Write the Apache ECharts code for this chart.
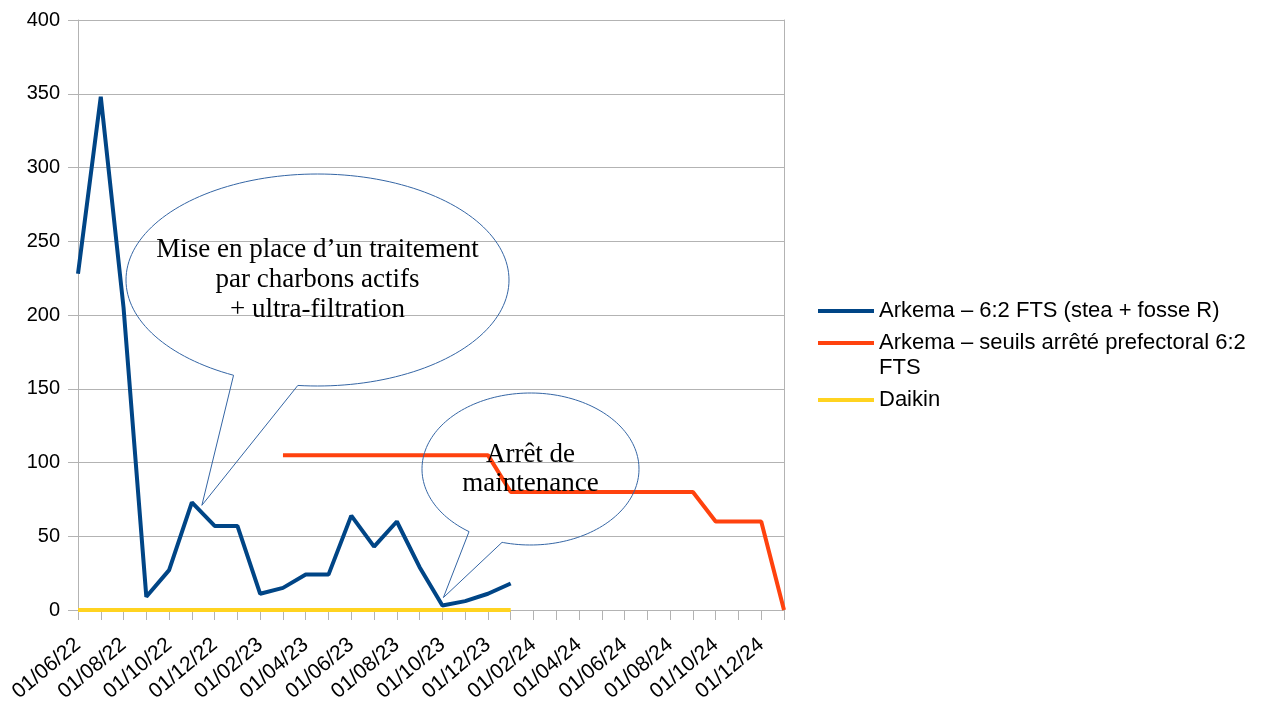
<!DOCTYPE html>
<html>
<head>
<meta charset="utf-8">
<script src="https://cdn.jsdelivr.net/npm/echarts@6/dist/echarts.min.js"></script>
<style>
  html, body { margin: 0; padding: 0; background: #fff; }
  #chart { width: 1278px; height: 701px; }
</style>
</head>
<body>
<div id="chart"></div>
<script>
const months = [
  '01/06/22', '01/07/22', '01/08/22', '01/09/22', '01/10/22', '01/11/22', '01/12/22',
  '01/01/23', '01/02/23', '01/03/23', '01/04/23', '01/05/23', '01/06/23',
  '01/07/23', '01/08/23', '01/09/23', '01/10/23', '01/11/23', '01/12/23',
  '01/01/24', '01/02/24', '01/03/24', '01/04/24', '01/05/24', '01/06/24',
  '01/07/24', '01/08/24', '01/09/24', '01/10/24', '01/11/24', '01/12/24',
  '01/01/25'
]

const seriesNames = [
  'Arkema – 6:2 FTS (stea + fosse R)',
  'Arkema – seuils arrêté prefectoral 6:2 FTS',
  'Daikin'
]

const arkema = [228, 348, 205, 9, 27, 73, 57, 57, 11, 15, 24, 24, 64, 43, 60, 29, 3, 6, 11, 18,
  null, null, null, null, null, null, null, null, null, null, null, null]

const seuils = [null, null, null, null, null, null, null, null, null,
  105, 105, 105, 105, 105, 105, 105, 105, 105, 105,
  80, 80, 80, 80, 80, 80, 80, 80, 80,
  60, 60, 60, 0]

const daikin = [0, 0, 0, 0, 0, 0, 0, 0, 0, 0, 0, 0, 0, 0, 0, 0, 0, 0, 0, 0,
  null, null, null, null, null, null, null, null, null, null, null, null]

const colors = ['#004586', '#ff420e', '#ffd320']

// speech bubbles: ellipse + tail pointing at a point of the first series
const notes = [
  {
    lines: ['Mise en place d’un traitement', 'par charbons actifs', '+ ultra-filtration'],
    cx: 317.5, cy: 280, rx: 191.5, ry: 106,
    tailFrom: 116, tailTo: 95.9,
    at: 5, dx: 10, dy: 3,
    fontSize: 27, lineHeight: 30
  },
  {
    lines: ['Arrêt de', 'maintenance'],
    cx: 530.5, cy: 469, rx: 108.5, ry: 76,
    tailFrom: 124.5, tailTo: 105.2,
    at: 16, dx: 1, dy: -8,
    fontSize: 27, lineHeight: 29
  }
]

const gray = '#b3b3b3'
const sans = '"Liberation Sans", Arial, sans-serif'

const legendBase = {
  orient: 'vertical',
  left: 818,
  padding: 0,
  icon: 'rect',
  itemWidth: 56,
  itemHeight: 4,
  selectedMode: false,
  textStyle: { fontFamily: sans, fontSize: 22, color: '#000', lineHeight: 25 }
}

const option = {
  animation: false,
  color: colors,
  grid: { left: 78, right: 494, top: 20, bottom: 91, outerBoundsMode: 'none' },
  legend: [
    Object.assign({}, legendBase, { top: 298.5, data: [seriesNames[0]] }),
    // blank first line keeps the icon level with the first text line
    Object.assign({}, legendBase, {
      top: 305.5,
      data: [seriesNames[1]],
      formatter: name => ' \n' + name.replace(' FTS', '\nFTS')
    }),
    Object.assign({}, legendBase, { top: 387.5, data: [seriesNames[2]] })
  ],
  xAxis: {
    type: 'category',
    data: months,
    boundaryGap: false,
    axisLine: { lineStyle: { color: gray, width: 1 } },
    axisTick: { show: true, interval: 0, length: 10, lineStyle: { color: gray } },
    axisLabel: {
      interval: 1,
      rotate: 40,
      margin: 32,
      fontFamily: sans,
      fontSize: 21,
      color: '#000'
    },
    splitLine: { show: false }
  },
  yAxis: [
    {
      type: 'value',
      min: 0,
      max: 400,
      interval: 50,
      axisLine: { show: true, lineStyle: { color: gray } },
      axisTick: { show: true, length: 10, lineStyle: { color: gray } },
      axisLabel: { margin: 18, fontFamily: sans, fontSize: 20, color: '#000' },
      splitLine: { lineStyle: { color: gray, width: 1 } }
    },
    {
      type: 'value',
      position: 'right',
      min: 0,
      max: 400,
      interval: 50,
      axisLine: { show: true, lineStyle: { color: gray } },
      axisTick: { show: false },
      axisLabel: { show: false },
      splitLine: { show: false }
    }
  ],
  series: [
    { name: seriesNames[0], type: 'line', data: arkema },
    { name: seriesNames[1], type: 'line', data: seuils },
    { name: seriesNames[2], type: 'line', data: daikin }
  ].map((s, i) => Object.assign(s, {
    symbol: 'none',
    lineStyle: { width: 4, color: colors[i] },
    itemStyle: { color: colors[i] },
    z: 2 + i
  }))
}

const chart = echarts.init(document.getElementById('chart'))
chart.setOption(option)

function bubblePoints(n, tip) {
  const pts = []
  const end = n.tailTo + 360
  for (let a = n.tailFrom; a < end; a += 2) {
    const r = a * Math.PI / 180
    pts.push([n.cx + n.rx * Math.cos(r), n.cy + n.ry * Math.sin(r)])
  }
  const r1 = end * Math.PI / 180
  pts.push([n.cx + n.rx * Math.cos(r1), n.cy + n.ry * Math.sin(r1)])
  pts.push(tip)
  return pts
}

const elements = []
notes.forEach(n => {
  const p = chart.convertToPixel({ xAxisIndex: 0, yAxisIndex: 0 }, [n.at, arkema[n.at]])
  const tip = [p[0] + n.dx, p[1] + n.dy]
  elements.push({
    type: 'polygon',
    z: 100,
    shape: { points: bubblePoints(n, tip) },
    style: { fill: 'none', stroke: '#3465a4', lineWidth: 1 }
  })
  elements.push({
    type: 'text',
    z: 101,
    style: {
      text: n.lines.join('\n'),
      x: n.cx,
      y: n.cy,
      align: 'center',
      verticalAlign: 'middle',
      fontFamily: '"Liberation Serif", "Times New Roman", serif',
      fontSize: n.fontSize,
      lineHeight: n.lineHeight,
      fill: '#000'
    }
  })
})

chart.setOption({ graphic: { elements: elements } })

window.addEventListener('resize', function() {
  chart.resize()
})
</script>
</body>
</html>
